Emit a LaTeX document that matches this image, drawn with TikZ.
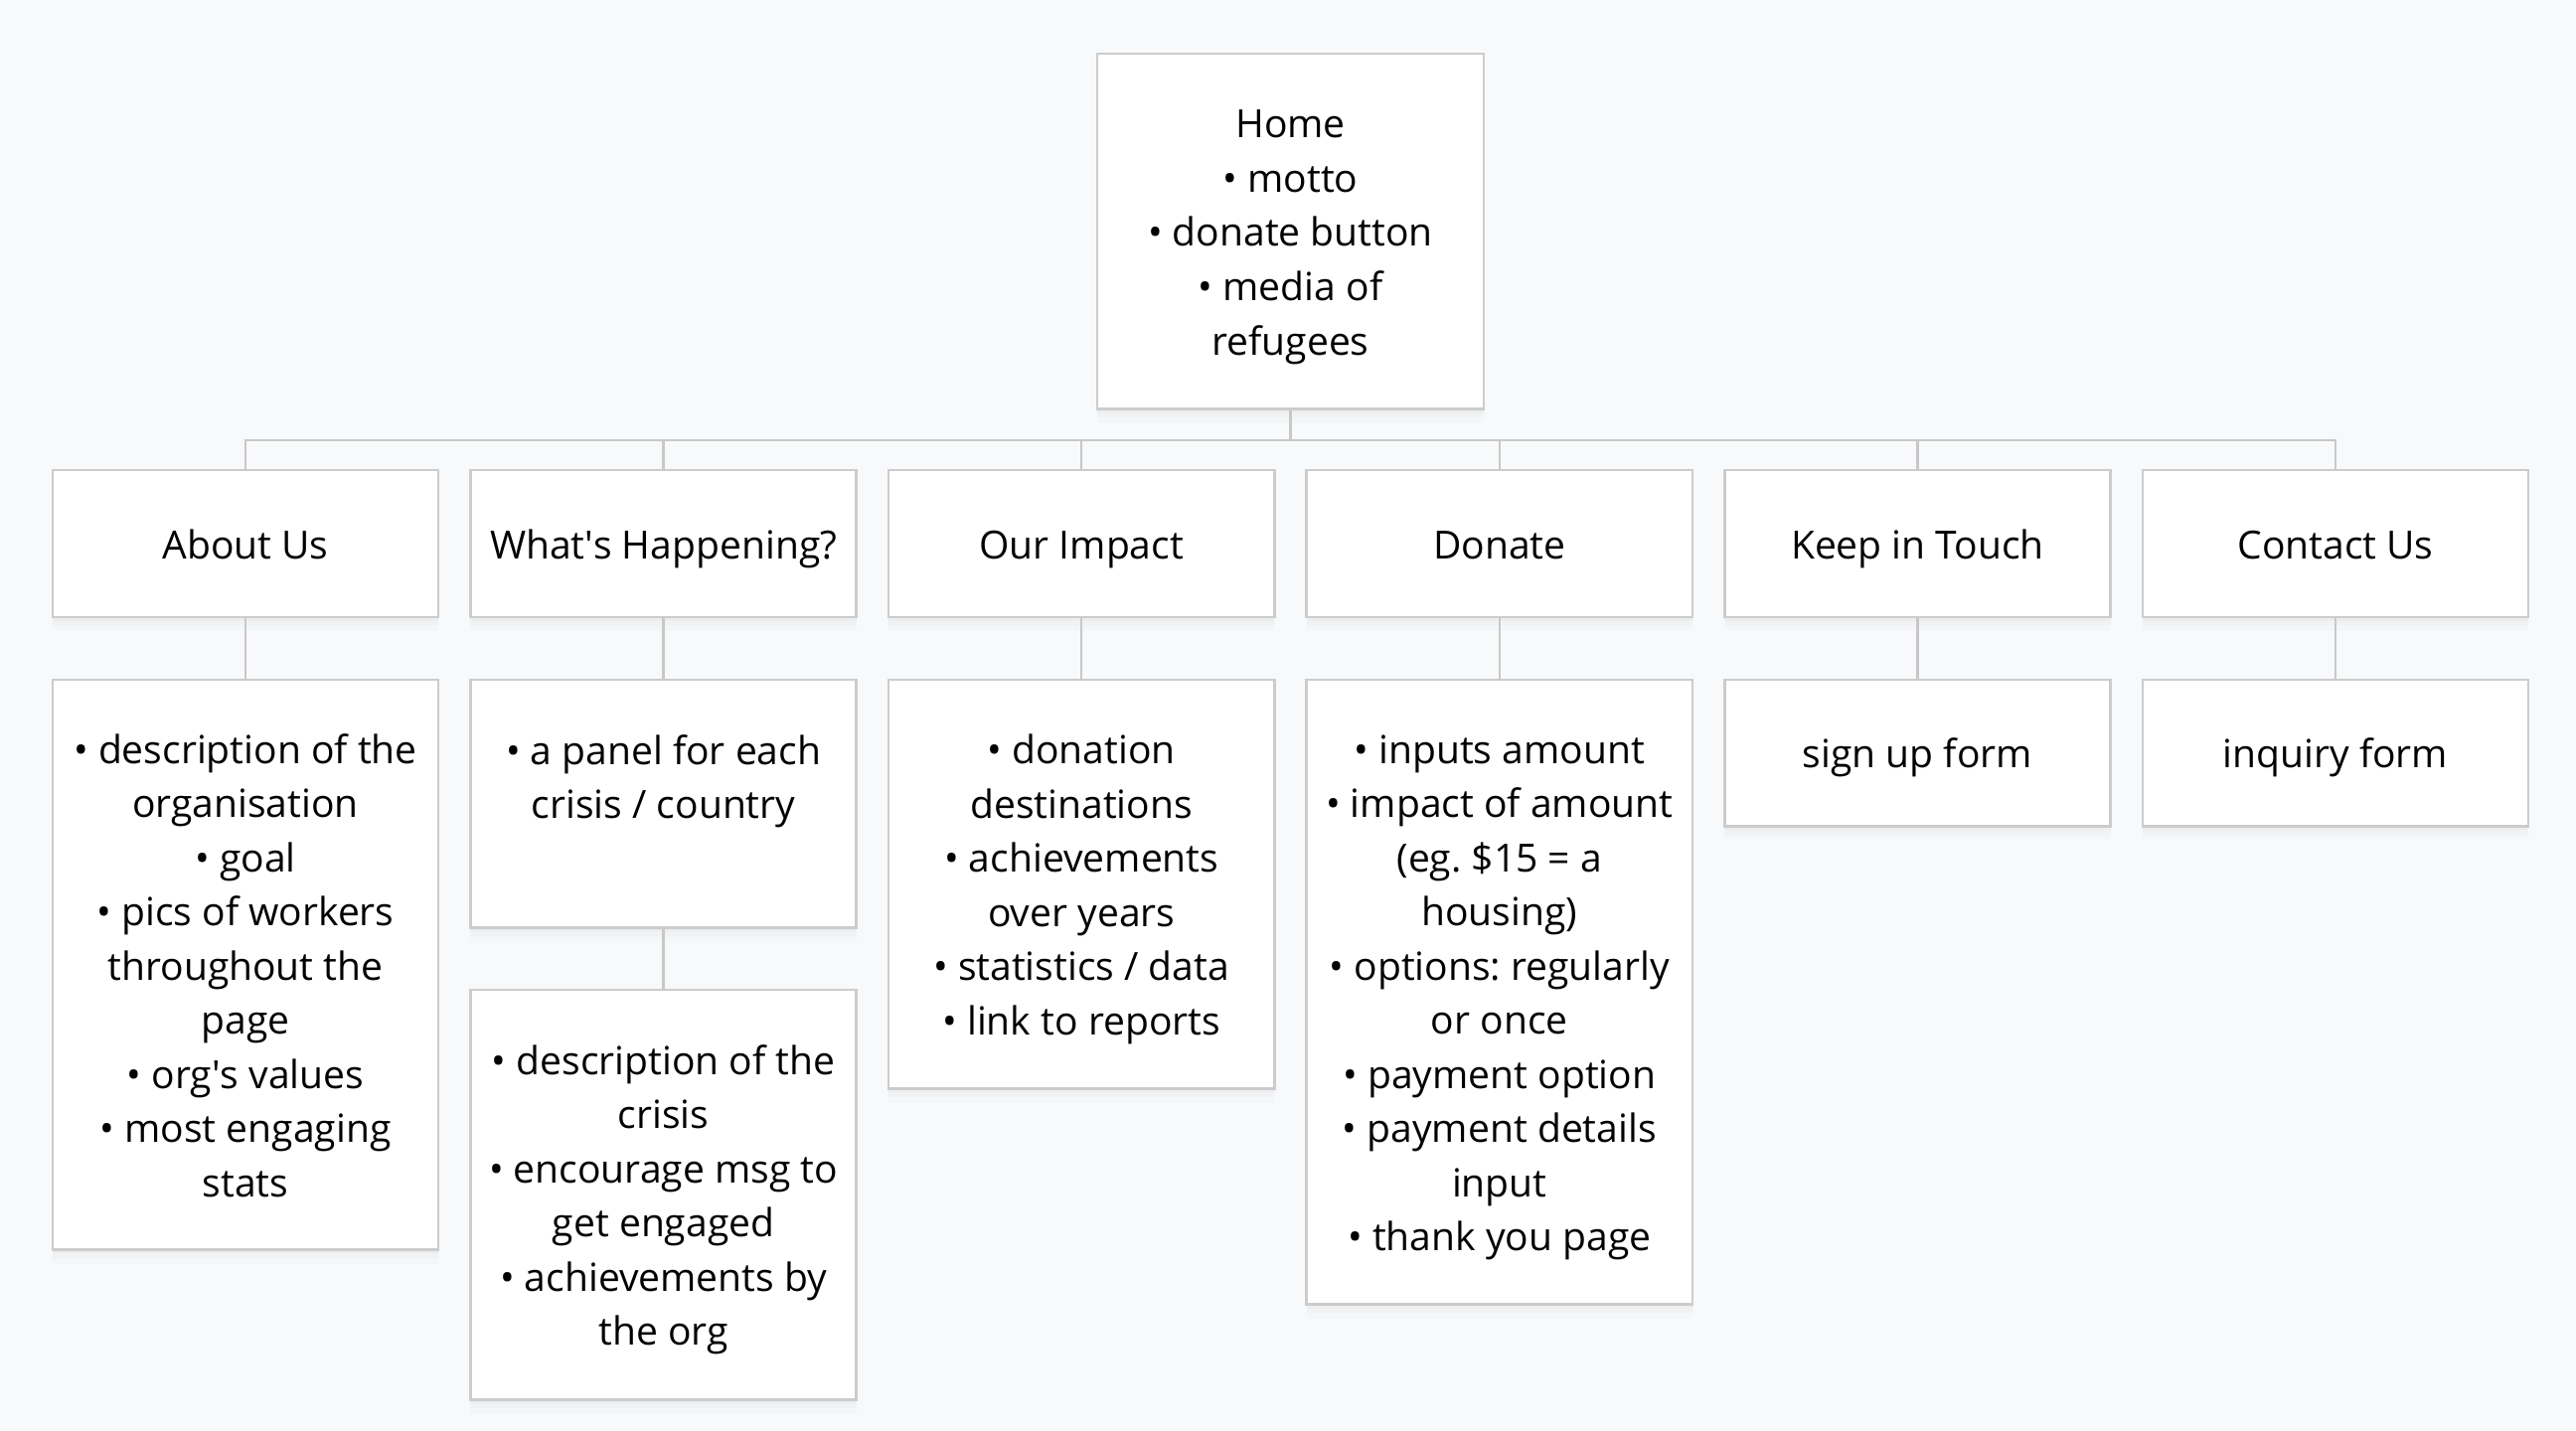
\documentclass[tikz,border=0pt]{standalone}
\usepackage{fontspec}
\setmainfont{Open Sans}
\usetikzlibrary{shadows}
\definecolor{pagebg}{HTML}{F8F9FB}
\definecolor{boxline}{HTML}{CCCCCC}
\definecolor{linkline}{HTML}{C8C8C8}
\newcommand{\ls}{\rule[-3.45pt]{0pt}{15.52pt}}
\frenchspacing
\begin{document}
\begin{tikzpicture}[x=0.01cm,y=-0.01cm]
	\tikzstyle{page}=[draw=boxline,line width=0.7pt,fill=white,align=center,inner sep=0pt,minimum width=3.88cm,
		font=\fontsize{11.1}{15.5}\selectfont,
		execute at begin node=\ls,execute at end node=\ls,
		drop shadow={shadow xshift=0pt,shadow yshift=-1pt,opacity=0.035},
		drop shadow={shadow xshift=0pt,shadow yshift=-2.5pt,opacity=0.03},
		drop shadow={shadow xshift=0pt,shadow yshift=-4pt,opacity=0.02}]
	\tikzstyle{list}=[page,anchor=north]
	\tikzstyle{link}=[draw=linkline,line width=0.7pt]
	
	\fill[pagebg] (0,0) rectangle (2592,1440);
	\useasboundingbox (0,0) rectangle (2592,1440);
	
	\coordinate (bus) at (0,443);
	
	% top page
	\node[list,minimum width=3.89cm,minimum height=3.57cm](p0) at (1298.5,53){\ls Home\\• motto\\• donate button\\• media of\\refugees\ls};
	
	% menu
	\node[page,minimum height=1.48cm](p1) at (247,547){About Us};
	\node[page,minimum height=1.48cm](p2) at (667.6,547){What\textquotesingle s Happening?};
	\node[page,minimum height=1.48cm](p3) at (1088.2,547){Our Impact};
	\node[page,minimum height=1.48cm](p4) at (1508.8,547){Donate};
	\node[page,minimum height=1.48cm](p5) at (1929.4,547){Keep in Touch};
	\node[page,minimum height=1.48cm](p6) at (2350,547){Contact Us};
	
	% contents
	\node[list,minimum height=5.73cm](d1) at (247,683){\ls • description of the\\organisation\\• goal\\• pics of workers\\throughout the\\page\\• org\textquotesingle s values\\• most engaging\\stats\ls};
	\node[list,minimum height=2.49cm](d2) at (667.6,683){\ls • a panel for each\\crisis / country\\\ls};
	\node[list,minimum height=4.12cm](d2b) at (667.6,995){\ls • description of the\\crisis\\• encourage msg to\\get engaged\\• achievements by\\the org\ls};
	\node[list,minimum height=4.11cm](d3) at (1088.2,683){\ls • donation\\destinations\\• achievements\\over years\\• statistics / data\\• link to reports\ls};
	\node[list,minimum height=6.28cm](d4) at (1508.8,683){\ls • inputs amount\\• impact of amount\\(eg. \$15 = a\\housing)\\• options: regularly\\or once\\• payment option\\• payment details\\input\\• thank you page\ls};
	\node[list,minimum height=1.47cm](d5) at (1929.4,683){sign up form};
	\node[list,minimum height=1.47cm](d6) at (2350,683){inquiry form};
	
	\draw[link] (p0.south) -- (p0.south |- bus);
	\draw[link] (p1.north) -- (p1.north |- bus) -- (p6.north |- bus) -- (p6.north);
	\draw[link] (p2.north) -- (p2.north |- bus);
	\draw[link] (p3.north) -- (p3.north |- bus);
	\draw[link] (p4.north) -- (p4.north |- bus);
	\draw[link] (p5.north) -- (p5.north |- bus);
	
	\draw[link] (p1) -- (d1);
	\draw[link] (p2) -- (d2);
	\draw[link] (d2) -- (d2b);
	\draw[link] (p3) -- (d3);
	\draw[link] (p4) -- (d4);
	\draw[link] (p5) -- (d5);
	\draw[link] (p6) -- (d6);
\end{tikzpicture}
\end{document}
